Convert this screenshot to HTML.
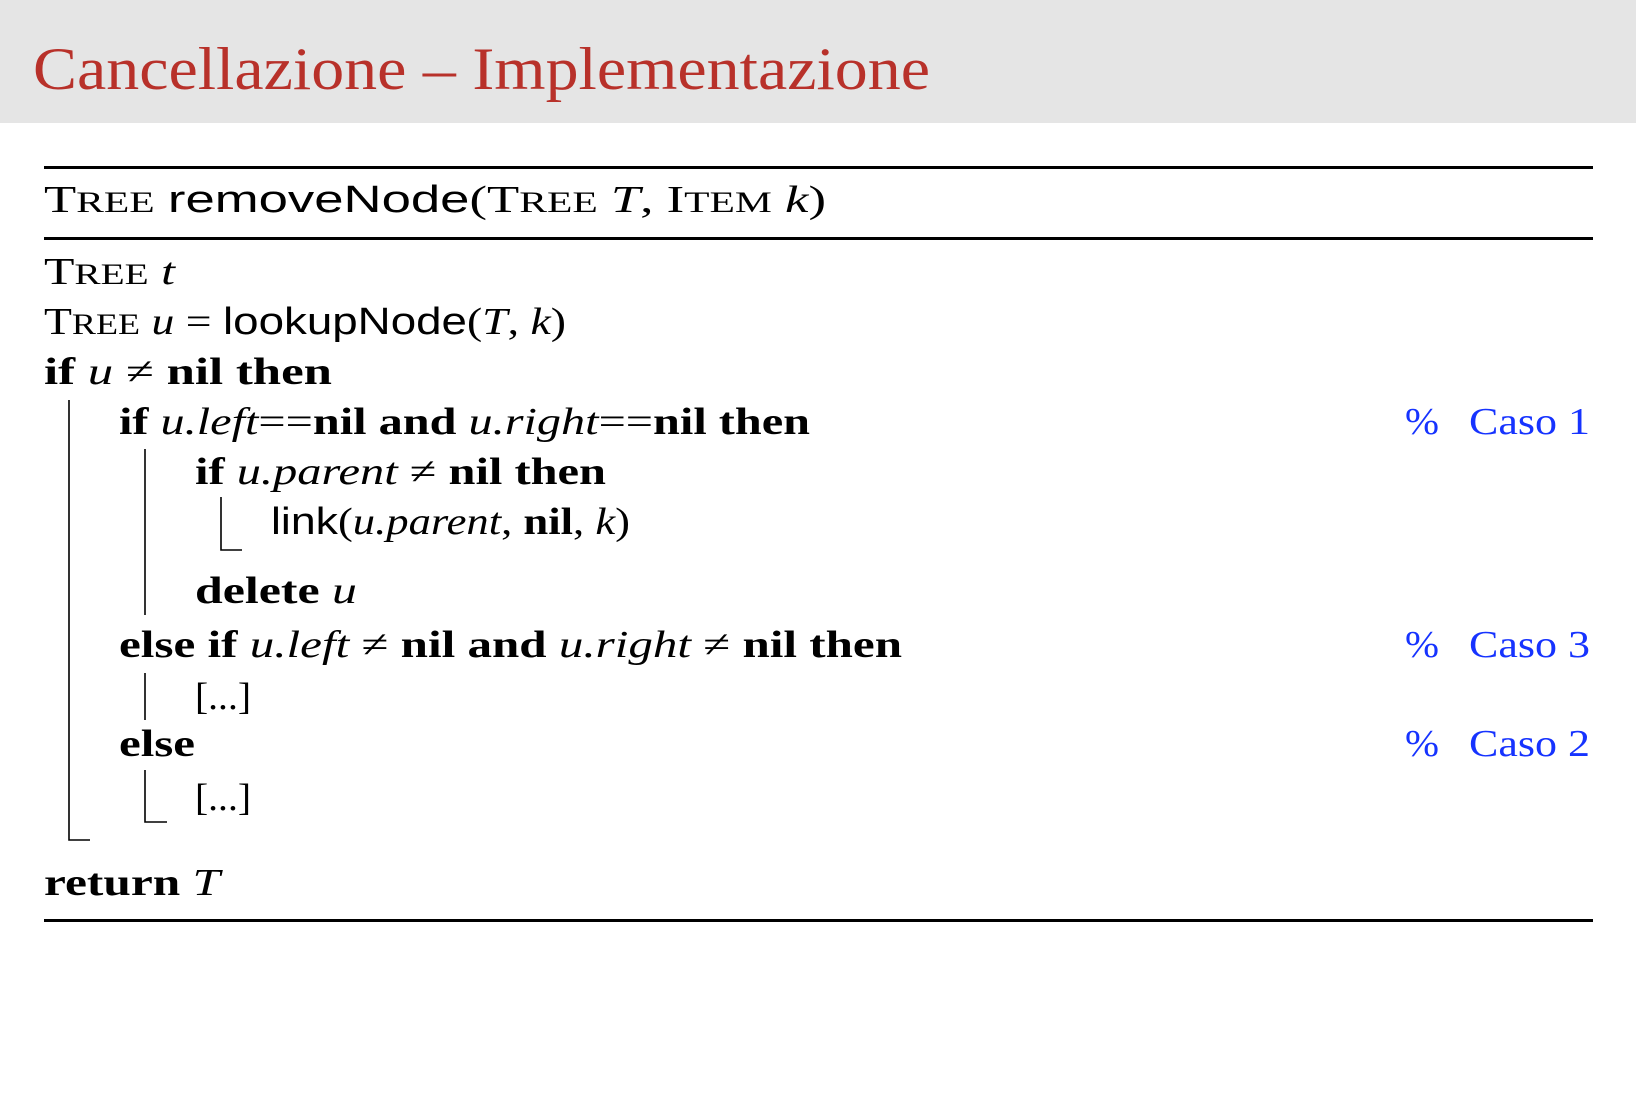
<!DOCTYPE html>
<html><head><meta charset="utf-8"><style>
html,body{margin:0;padding:0;background:#fff}
svg{display:block}
text{font-family:"Liberation Serif",serif;font-size:38px;fill:#000}
.s{font-family:"Liberation Sans",sans-serif}
.i{font-style:italic}
.b{font-weight:bold}
.c{fill:#1633ff}
</style></head><body>
<svg width="1636" height="1118" viewBox="0 0 1636 1118" xmlns="http://www.w3.org/2000/svg">
<rect x="0" y="0" width="1636" height="123" fill="#e5e5e5"/>
<text x="33" y="89" style="font-size:60px;fill:#b8312a" textLength="897" lengthAdjust="spacingAndGlyphs">Cancellazione – Implementazione</text>

<rect x="44" y="166" width="1549" height="3" fill="#000"/>
<rect x="44" y="237" width="1549" height="3" fill="#000"/>
<rect x="44" y="919" width="1549" height="3" fill="#000"/>

<text x="44" y="212" textLength="782" lengthAdjust="spacingAndGlyphs">T<tspan font-size="30">REE</tspan> <tspan class="s">removeNode</tspan>(T<tspan font-size="30">REE</tspan> <tspan class="i">T</tspan>,  I<tspan font-size="30">TEM</tspan> <tspan class="i">k</tspan>)</text>

<text x="44" y="284" textLength="131" lengthAdjust="spacingAndGlyphs">T<tspan font-size="30">REE</tspan> <tspan class="i">t</tspan></text>
<text x="44" y="334" textLength="522" lengthAdjust="spacingAndGlyphs">T<tspan font-size="30">REE</tspan> <tspan class="i">u</tspan> = <tspan class="s">lookupNode</tspan>(<tspan class="i">T</tspan>, <tspan class="i">k</tspan>)</text>
<text x="44" y="384" textLength="288" lengthAdjust="spacingAndGlyphs"><tspan class="b">if</tspan> <tspan class="i">u</tspan> ≠ <tspan class="b">nil then</tspan></text>
<text x="119" y="434" textLength="691" lengthAdjust="spacingAndGlyphs"><tspan class="b">if</tspan> <tspan class="i">u.left</tspan>==<tspan class="b">nil and</tspan> <tspan class="i">u.right</tspan>==<tspan class="b">nil then</tspan></text>
<text x="195" y="484" textLength="411" lengthAdjust="spacingAndGlyphs"><tspan class="b">if</tspan> <tspan class="i">u.parent</tspan> ≠ <tspan class="b">nil then</tspan></text>
<text x="271" y="534" textLength="359" lengthAdjust="spacingAndGlyphs"><tspan class="s">link</tspan>(<tspan class="i">u.parent</tspan>, <tspan class="b">nil</tspan>, <tspan class="i">k</tspan>)</text>
<text x="195" y="603" textLength="162" lengthAdjust="spacingAndGlyphs"><tspan class="b">delete</tspan> <tspan class="i">u</tspan></text>
<text x="119" y="657" textLength="783" lengthAdjust="spacingAndGlyphs"><tspan class="b">else if</tspan> <tspan class="i">u.left</tspan> ≠ <tspan class="b">nil and</tspan> <tspan class="i">u.right</tspan> ≠ <tspan class="b">nil then</tspan></text>
<text x="195" y="709" textLength="56" lengthAdjust="spacingAndGlyphs">[...]</text>
<text x="119" y="756" class="b" textLength="76" lengthAdjust="spacingAndGlyphs">else</text>
<text x="195" y="810" textLength="56" lengthAdjust="spacingAndGlyphs">[...]</text>
<text x="44" y="895" textLength="176" lengthAdjust="spacingAndGlyphs"><tspan class="b">return</tspan> <tspan class="i">T</tspan></text>

<text x="1405" y="434" class="c" textLength="34" lengthAdjust="spacingAndGlyphs">%</text>
<text x="1469" y="434" class="c" textLength="121" lengthAdjust="spacingAndGlyphs">Caso 1</text>
<text x="1405" y="657" class="c" textLength="34" lengthAdjust="spacingAndGlyphs">%</text>
<text x="1469" y="657" class="c" textLength="121" lengthAdjust="spacingAndGlyphs">Caso 3</text>
<text x="1405" y="756" class="c" textLength="34" lengthAdjust="spacingAndGlyphs">%</text>
<text x="1469" y="756" class="c" textLength="121" lengthAdjust="spacingAndGlyphs">Caso 2</text>

<g stroke="#000" stroke-width="1.6" fill="none">
<path d="M69 400 V840 H90"/>
<path d="M145 449 V615"/>
<path d="M221 497 V550 H242"/>
<path d="M145 673 V720"/>
<path d="M145 770 V822 H167"/>
</g>
</svg>
</body></html>
